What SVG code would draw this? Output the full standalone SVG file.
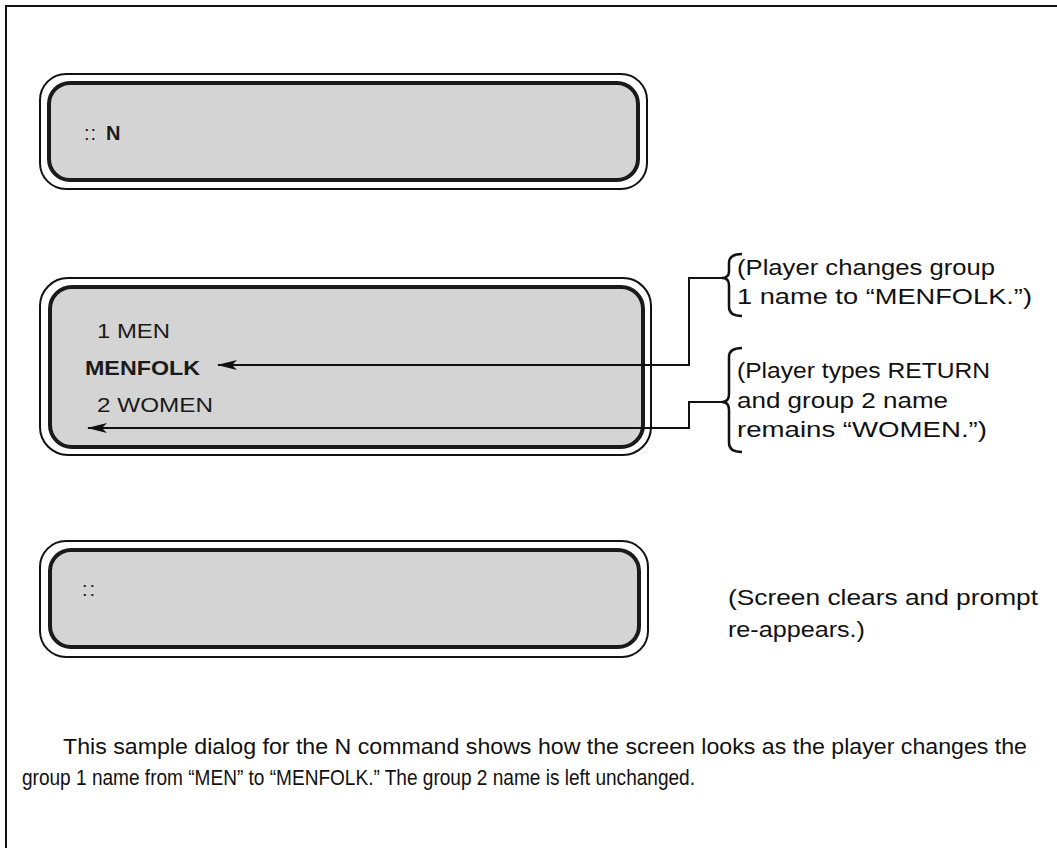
<svg xmlns="http://www.w3.org/2000/svg" width="1057" height="848" viewBox="0 0 1057 848">
<defs>
<marker id="ah" viewBox="0 0 20 10" refX="19" refY="5" markerWidth="20" markerHeight="10" markerUnits="userSpaceOnUse" orient="auto">
<path d="M20,5 L0,0 L5,5 L0,10 Z" fill="#111"/>
</marker>
</defs>
<style>
.outer{fill:#fff;stroke:#111;stroke-width:2}
.inner{fill:#d4d4d4;stroke:#1a1a1a;stroke-width:4}
.scr{font-family:"Liberation Sans",Arial,sans-serif;font-size:20px;fill:#1a1a1a}
.bold{font-weight:bold}
.lbl{font-family:"Liberation Sans",Arial,sans-serif;font-size:22px;fill:#111}
.cap{font-family:"Liberation Sans",Arial,sans-serif;font-size:22px;fill:#111}
.conn{fill:none;stroke:#111;stroke-width:2}
.brace{fill:none;stroke:#111;stroke-width:2.5}
</style>
<rect width="1057" height="848" fill="#fff"/>
<g id="frame">
<path d="M6,848 V6 H1057" fill="none" stroke="#111" stroke-width="2"/>
</g>
<g id="screen1">
<rect class="outer" x="40" y="74" width="607" height="115" rx="26"/>
<rect class="inner" x="49" y="83" width="589" height="97" rx="21"/>
<text class="scr" x="84" y="140" font-size="18" letter-spacing="1">::</text>
<text class="scr bold" x="106" y="140" font-size="19">N</text>
</g>
<g id="screen2">
<rect class="outer" x="40" y="278" width="611" height="177" rx="28"/>
<rect class="inner" x="50" y="287" width="593" height="160" rx="22"/>
<text class="scr" x="97" y="338" textLength="73" lengthAdjust="spacingAndGlyphs">1 MEN</text>
<text class="scr bold" x="85" y="375" textLength="115" lengthAdjust="spacingAndGlyphs">MENFOLK</text>
<text class="scr" x="97" y="412" textLength="116" lengthAdjust="spacingAndGlyphs">2 WOMEN</text>
</g>
<g id="screen3">
<rect class="outer" x="40" y="541" width="608" height="116" rx="26"/>
<rect class="inner" x="50" y="550" width="589" height="97" rx="21"/>
<text class="scr" x="82" y="596" font-size="18" letter-spacing="2">::</text>
</g>
<g id="connectors">
<path class="conn" d="M722,278 H689 V365 H218" marker-end="url(#ah)"/>
<path class="conn" d="M722,402 H689 V428 H88" marker-end="url(#ah)"/>
<path class="brace" d="M742,254 Q729,254 729,263 V271 Q729,278 722,278 Q729,278 729,285 V307 Q729,316 742,316"/>
<path class="brace" d="M742,348 Q729,348 729,357 V394 Q729,402 722,402 Q729,402 729,410 V443 Q729,452 742,452"/>
</g>
<g id="label1">
<text class="lbl" x="737" y="275" textLength="258" lengthAdjust="spacingAndGlyphs">(Player changes group</text>
<text class="lbl" x="737" y="304" textLength="295" lengthAdjust="spacingAndGlyphs">1 name to “MENFOLK.”)</text>
</g>
<g id="label2">
<text class="lbl" x="737" y="378" textLength="253" lengthAdjust="spacingAndGlyphs">(Player types RETURN</text>
<text class="lbl" x="737" y="408" textLength="211" lengthAdjust="spacingAndGlyphs">and group 2 name</text>
<text class="lbl" x="737" y="437" textLength="250" lengthAdjust="spacingAndGlyphs">remains “WOMEN.”)</text>
</g>
<g id="label3">
<text class="lbl" x="728" y="605" textLength="310" lengthAdjust="spacingAndGlyphs">(Screen clears and prompt</text>
<text class="lbl" x="728" y="637" textLength="137" lengthAdjust="spacingAndGlyphs">re-appears.)</text>
</g>
<g id="caption">
<text class="cap" x="63" y="754" textLength="964" lengthAdjust="spacingAndGlyphs">This sample dialog for the N command shows how the screen looks as the player changes the</text>
<text class="cap" x="22" y="785" textLength="673" lengthAdjust="spacingAndGlyphs">group 1 name from “MEN” to “MENFOLK.” The group 2 name is left unchanged.</text>
</g>
</svg>
